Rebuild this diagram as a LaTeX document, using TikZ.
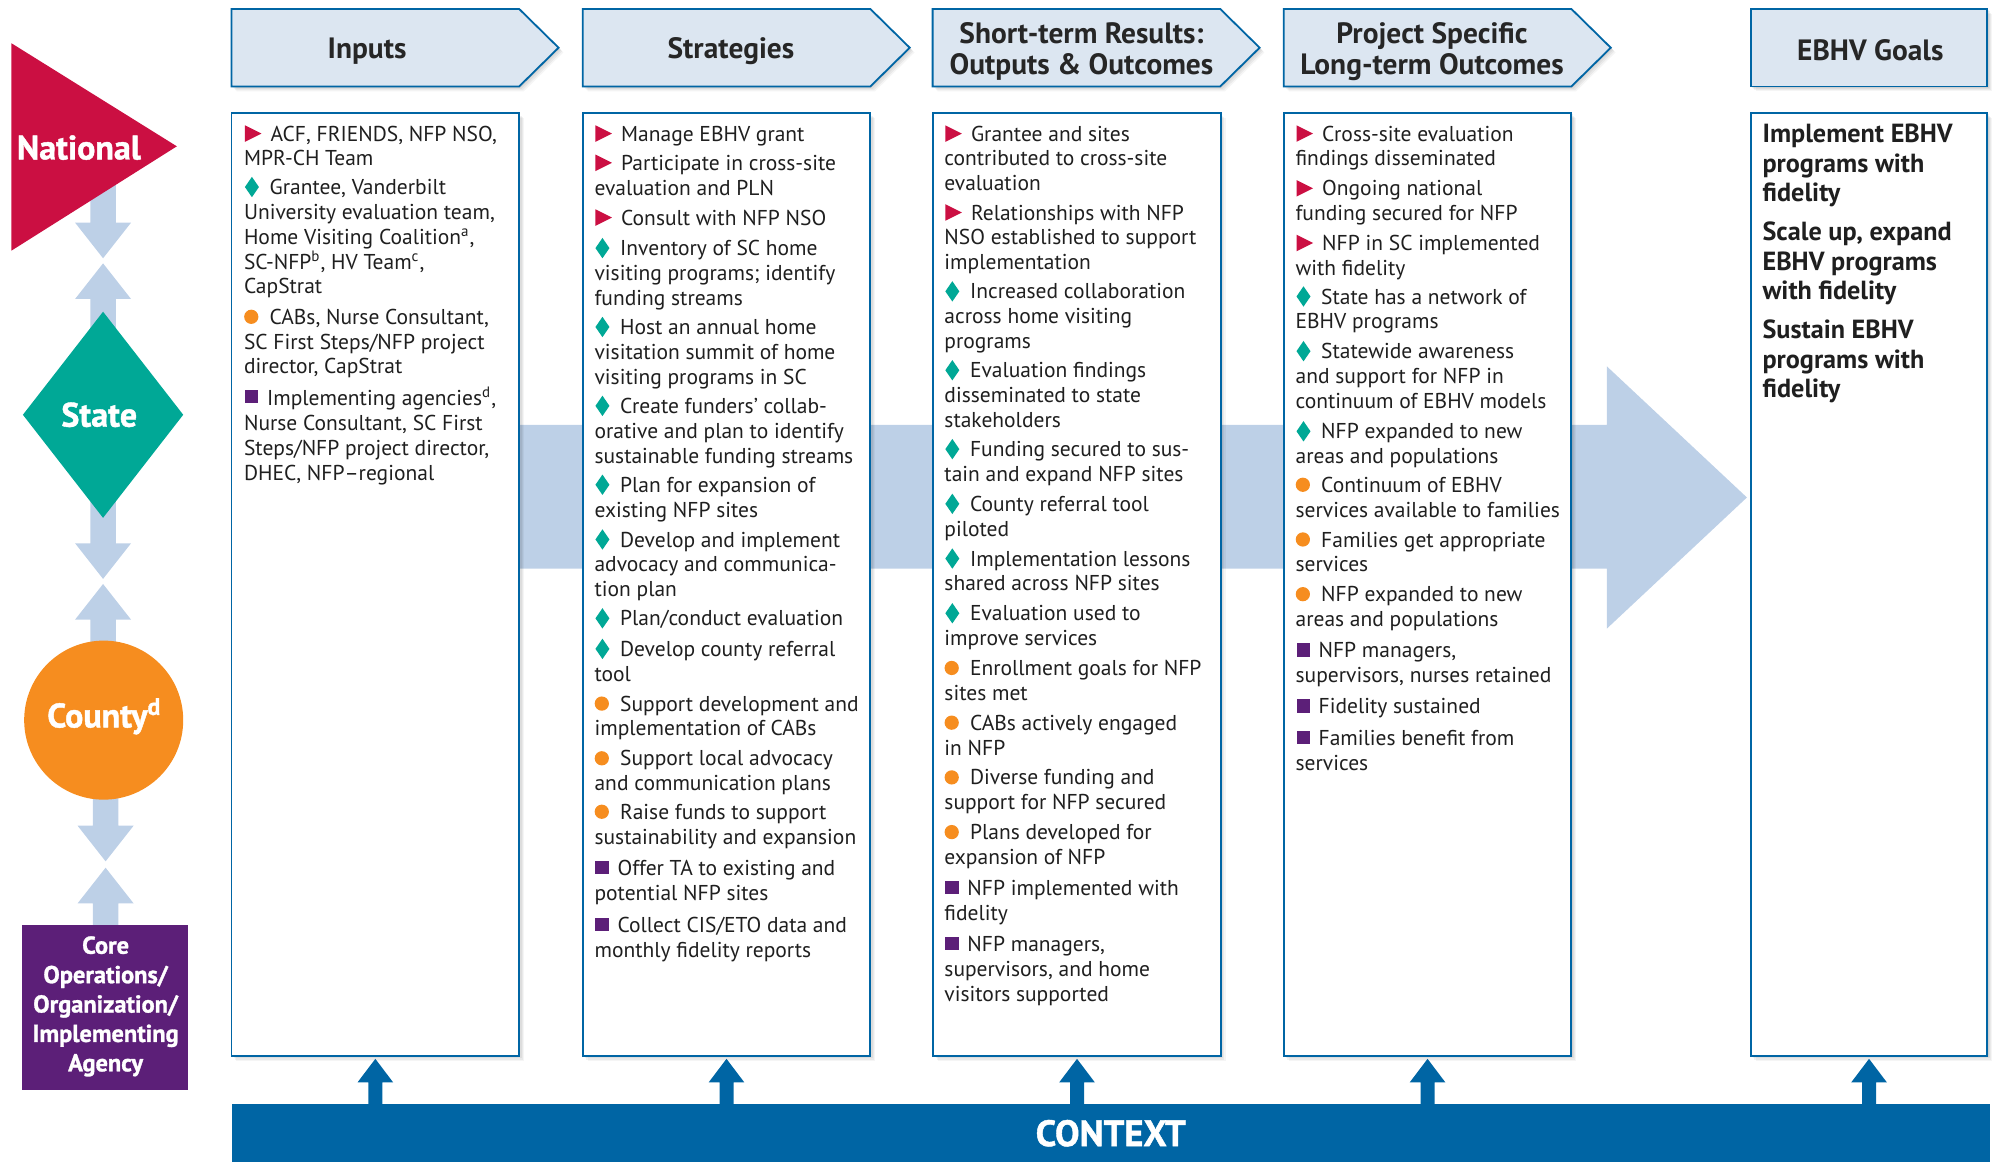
\documentclass[tikz,border=0pt]{standalone}
\usepackage{fontspec}
\setmainfont{PT Sans}
\newfontfamily\heavyfont{PT Sans}[BoldFeatures={FakeBold=1.2}]
\usetikzlibrary{shadows,backgrounds}
\definecolor{crim}{HTML}{CB0F42}
\definecolor{teal2}{HTML}{00A896}
\definecolor{orng}{HTML}{F68D1F}
\definecolor{purp}{HTML}{5C1F78}
\definecolor{ctx}{HTML}{0065A4}
\definecolor{headfill}{HTML}{DCE6F1}
\definecolor{band}{HTML}{BDD0E7}
\def\U{0.63617pt}
\tikzset{
  softshadow/.style={
    general shadow={fill=black,opacity=.06,shadow xshift=.6pt,shadow yshift=-.6pt},
    general shadow={fill=black,opacity=.05,shadow xshift=1.2pt,shadow yshift=-1.2pt},
    general shadow={fill=black,opacity=.05,shadow xshift=1.8pt,shadow yshift=-1.8pt},
    general shadow={fill=black,opacity=.04,shadow xshift=2.4pt,shadow yshift=-2.4pt}},
  headshape/.style={draw=ctx,fill=headfill,line width=.9pt,line join=miter,softshadow},
  headtext/.style={align=center,inner sep=0pt,font=\fontsize{14.7}{15.9}\selectfont\bfseries,text=black!85},
  panel/.style={draw=ctx,fill=white,line width=.9pt,minimum width=226*\U,minimum height=741*\U,inner sep=0pt,softshadow},
  itemtext/.style={anchor=north west,align=left,inner sep=0pt,font=\fontsize{10.75}{12.4}\selectfont,text=black!88},
  goaltext/.style={anchor=north west,align=left,inner sep=0pt,font=\fontsize{13.1}{14.6}\selectfont\bfseries,text=black!88},
  levellabel/.style={text=white,inner sep=0pt,font=\heavyfont\fontsize{17}{19}\selectfont\bfseries},
  ctxarrow/.style={fill=ctx},
  updown/.style={fill=band},
}
\newcounter{itmc}
\def\bulr{\fill[crim](1,-6.5)--(14,0)--(1,6.5)--cycle;}
\def\buld{\fill[teal2](1,0)--(6.5,-8)--(12,0)--(6.5,8)--cycle;}
\def\bulo{\fill[orng](6,0) circle[radius=5.6];}
\def\bulp{\fill[purp](1,-5.5) rectangle (11.5,5);}
\def\indr{13.3pt}
\def\indd{12.8pt}
\def\indo{12.8pt}
\def\indp{11.5pt}
\newcommand\itm[4]{\stepcounter{itmc}\begin{scope}[shift={(#2,#3)}]\csname bul#1\endcsname
  \node[itemtext] (item\theitmc) at (0,-8) {\strut\hspace*{\csname ind#1\endcsname}#4};\end{scope}}
\newcommand\goal[4]{\node[goaltext] (#1) at (#2,#3) {\strut #4};}
\newcommand\headarrow[1]{%
  \path[headshape] (#1,7)--(#1+226,7)--(#1+257,37.5)--(#1+226,68)--(#1,68)--cycle;}
\newcommand\sss[1]{\textsuperscript{#1}}
\newcommand\downarr[3]{\fill[updown] (#1-10,#2)--(#1+10,#2)--(#1+10,#3-28)--(#1+22,#3-28)--(#1,#3)--(#1-22,#3-28)--(#1-10,#3-28)--cycle;}
\newcommand\uparr[3]{\fill[updown] (#1-10,#2)--(#1+10,#2)--(#1+10,#3+28)--(#1+22,#3+28)--(#1,#3)--(#1-22,#3+28)--(#1-10,#3+28)--cycle;}
\newcommand\ctxup[1]{\fill[ctxarrow,shift={(#1.south)}] (-5.5,38)--(5.5,38)--(5.5,20)--(14,20)--(0,1.5)--(-14,20)--(-5.5,20)--cycle;}
\begin{document}
\begin{tikzpicture}[x=0.63617pt,y=-0.63617pt]
\useasboundingbox (0,0) rectangle (1568,913.3);
% big arrow
\fill[band] (408,334)--(1263,334)--(1263,288)--(1373,391)--(1263,494)--(1263,447)--(408,447)--cycle;
% left arrows
\downarr{81}{140}{203}
\uparr{81}{260}{207}
\downarr{81}{390}{455}
\uparr{81}{520}{459}
\downarr{83}{620}{677}
\uparr{83}{730}{682}
% level shapes
\fill[crim] (9,34)--(139,115)--(9,197)--cycle;
\node[levellabel] (national) at (62,116) {National};
\fill[teal2] (81,245)--(144,326)--(81,407)--(18,326)--cycle;
\node[levellabel] (state) at (78,326) {State};
\node[circle,fill=orng,minimum size=125*\U,inner sep=0pt] (countyshape) at (81.5,566) {};
\node[levellabel] (county) at (82,563) {County\sss{d}};
\node[fill=purp,minimum width=131*\U,minimum height=130*\U,inner sep=0pt] (coreshape) at (82.5,792) {};
\node[align=center,text=white,inner sep=0pt,font=\heavyfont\fontsize{12.2}{14.7}\selectfont\bfseries] (core) at (83,791) {Core\\Operations/\\Organization/\\Implementing\\Agency};
% header arrows
\headarrow{182}
\headarrow{458}
\headarrow{733}
\headarrow{1009}
\path[headshape] (1376,7) rectangle (1562,68);
\node[headtext] (hinputs) at (288.5,40.5) {Inputs};
\node[headtext] (hstrat) at (574.5,40.5) {Strategies};
\node[headtext] (hshort) at (850,40.5) {Short-term Results:\\Outputs \& Outcomes};
\node[headtext] (hproj) at (1125.5,40.5) {Project Specific\\Long-term Outcomes};
\node[headtext] (hgoals) at (1470,39.5) {EBHV Goals};
% panels
\node[panel] (inputs) at (295,459.5) {};
\node[panel] (strategies) at (571,459.5) {};
\node[panel] (short) at (846.5,459.5) {};
\node[panel] (project) at (1122,459.5) {};
\node[panel,minimum width=186*\U] (goals) at (1469,459.5) {};
% context
\node[fill=ctx,minimum width=1382*\U,minimum height=45.3*\U,inner sep=0pt,text=white,font=\heavyfont\fontsize{18.3}{20}\selectfont\bfseries] (context) at (873,890.7) {CONTEXT};
\ctxup{inputs}
\ctxup{strategies}
\ctxup{short}
\ctxup{project}
\ctxup{goals}
% Inputs
\itm{r}{191.5}{105}{ACF, FRIENDS, NFP NSO,\\MPR-CH Team}
\itm{d}{191.5}{147}{Grantee, Vanderbilt\\University evaluation team,\\Home Visiting Coalition\sss{a},\\SC-NFP\sss{b}, HV Team\sss{c},\\CapStrat}
\itm{o}{191.5}{249}{CABs, Nurse Consultant,\\SC First Steps/NFP project\\director, CapStrat}
\itm{p}{191.5}{312}{Implementing agencies\sss{d},\\Nurse Consultant, SC First\\Steps/NFP project director,\\DHEC, NFP–regional}
% Strategies
\itm{r}{467}{105}{Manage EBHV grant}
\itm{r}{467}{128}{Participate in cross-site\\evaluation and PLN}
\itm{r}{467}{171}{Consult with NFP NSO}
\itm{d}{467}{195}{Inventory of SC home\\visiting programs; identify\\funding streams}
\itm{d}{467}{257}{Host an annual home\\visitation summit of home\\visiting programs in SC}
\itm{d}{467}{319}{Create funders’ collab-\\orative and plan to identify\\sustainable funding streams}
\itm{d}{467}{381}{Plan for expansion of\\existing NFP sites}
\itm{d}{467}{424}{Develop and implement\\advocacy and communica-\\tion plan}
\itm{d}{467}{486}{Plan/conduct evaluation}
\itm{d}{467}{510}{Develop county referral\\tool}
\itm{o}{467}{553}{Support development and\\implementation of CABs}
\itm{o}{467}{596}{Support local advocacy\\and communication plans}
\itm{o}{467}{638}{Raise funds to support\\sustainability and expansion}
\itm{p}{467}{682}{Offer TA to existing and\\potential NFP sites}
\itm{p}{467}{727}{Collect CIS/ETO data and\\monthly fidelity reports}
% Short-term
\itm{r}{742}{105}{Grantee and sites\\contributed to cross-site\\evaluation}
\itm{r}{742}{167}{Relationships with NFP\\NSO established to support\\implementation}
\itm{d}{742}{229}{Increased collaboration\\across home visiting\\programs}
\itm{d}{742}{291}{Evaluation findings\\disseminated to state\\stakeholders}
\itm{d}{742}{353}{Funding secured to sus-\\tain and expand NFP sites}
\itm{d}{742}{396}{County referral tool\\piloted}
\itm{d}{742}{439}{Implementation lessons\\shared across NFP sites}
\itm{d}{742}{482}{Evaluation used to\\improve services}
\itm{o}{742}{525}{Enrollment goals for NFP\\sites met}
\itm{o}{742}{568}{CABs actively engaged\\in NFP}
\itm{o}{742}{611}{Diverse funding and\\support for NFP secured}
\itm{o}{742}{654}{Plans developed for\\expansion of NFP}
\itm{p}{742}{698}{NFP implemented with\\fidelity}
\itm{p}{742}{742}{NFP managers,\\supervisors, and home\\visitors supported}
% Project
\itm{r}{1018}{105}{Cross-site evaluation\\findings disseminated}
\itm{r}{1018}{148}{Ongoing national\\funding secured for NFP}
\itm{r}{1018}{191}{NFP in SC implemented\\with fidelity}
\itm{d}{1018}{233}{State has a network of\\EBHV programs}
\itm{d}{1018}{276}{Statewide awareness\\and support for NFP in\\continuum of EBHV models}
\itm{d}{1018}{339}{NFP expanded to new\\areas and populations}
\itm{o}{1018}{381}{Continuum of EBHV\\services available to families}
\itm{o}{1018}{424}{Families get appropriate\\services}
\itm{o}{1018}{467}{NFP expanded to new\\areas and populations}
\itm{p}{1018}{511}{NFP managers,\\supervisors, nurses retained}
\itm{p}{1018}{555}{Fidelity sustained}
\itm{p}{1018}{580}{Families benefit from\\services}
% Goals
\goal{g1}{1385}{96}{Implement EBHV\\programs with\\fidelity}
\goal{g2}{1385}{173}{Scale up, expand\\EBHV programs\\with fidelity}
\goal{g3}{1385}{250}{Sustain EBHV\\programs with\\fidelity}
\end{tikzpicture}
\end{document}
